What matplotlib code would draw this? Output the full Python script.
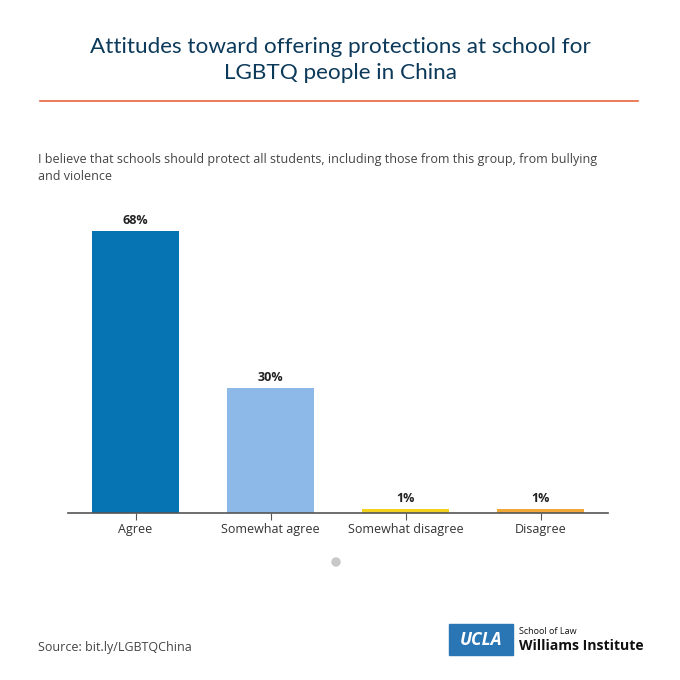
import matplotlib
matplotlib.use('Agg')
import matplotlib.pyplot as plt
from matplotlib.patches import Rectangle, Circle
from matplotlib.lines import Line2D

categories = ['Agree', 'Somewhat agree', 'Somewhat disagree', 'Disagree']
values = [68, 30, 1, 1]
labels = ['68%', '30%', '1%', '1%']
colors = ['#0673b3', '#8cb9e8', '#f2d21f', '#f0a83a']

plt.rcParams['font.family'] = ['Open Sans', 'DejaVu Sans']

fig = plt.figure(figsize=(6.8, 6.8), dpi=100)
fig.patch.set_facecolor('white')

# title and rule
fig.text(0.5, 1 - 47/680, 'Attitudes toward offering protections at school for',
         ha='center', va='center', fontsize=16.2, color='#0c3a5b', family='Lato')
fig.text(0.5, 1 - 73/680, 'LGBTQ people in China',
         ha='center', va='center', fontsize=16.2, color='#0c3a5b', family='Lato')
fig.add_artist(Line2D([40/680, 638/680], [1 - 101/680, 1 - 101/680],
                      color='#e8673f', lw=1.2, transform=fig.transFigure))

fig.text(38/680, 1 - 160/680,
         'I believe that schools should protect all students, including those from this group, from bullying',
         ha='left', va='center', fontsize=9.0, color='#444444')
fig.text(38/680, 1 - 177/680, 'and violence',
         ha='left', va='center', fontsize=9.0, color='#444444')

ax = fig.add_axes([68/680, 1 - 513/680, 540/680, 313/680])
x = range(len(categories))
ax.bar(x, values, width=0.64, color=colors)
for i, (v, lab) in enumerate(zip(values, labels)):
    ax.text(i, v + 1.0, lab, ha='center', va='bottom', fontsize=9,
            fontweight='bold', color='#222222')
ax.set_xlim(-0.5, 3.5)
ax.set_ylim(0, 75.4)
ax.set_xticks(list(x))
ax.set_xticklabels(categories, fontsize=9.0, color='#333333')
ax.tick_params(axis='x', length=5, color='#555555', pad=2)
ax.set_yticks([])
for s in ['top', 'right', 'left']:
    ax.spines[s].set_visible(False)
ax.spines['bottom'].set_color('#555555')
ax.spines['bottom'].set_linewidth(1.2)

# pager dot
fig.add_artist(Circle((336/680, 1 - 562/680), 4/680, color='#c8c8c8',
                      transform=fig.transFigure))

fig.text(38/680, 1 - 647/680, 'Source: bit.ly/LGBTQChina', ha='left', va='center',
         fontsize=9.0, color='#444444')

# logo
fig.add_artist(Rectangle((449/680, 1 - 655/680), 64/680, 31/680,
                         color='#2a75b3', transform=fig.transFigure))
fig.text(481/680, 1 - 640/680, 'UCLA', ha='center', va='center', fontsize=12.5,
         fontweight='bold', style='italic', color='white')
fig.text(519/680, 1 - 632/680, 'School of Law', ha='left', va='center',
         fontsize=6.5, color='#111111')
fig.text(519/680, 1 - 646/680, 'Williams Institute', ha='left', va='center',
         fontsize=10.1, fontweight='bold', color='#111111')

fig.savefig('out.png', dpi=100)
